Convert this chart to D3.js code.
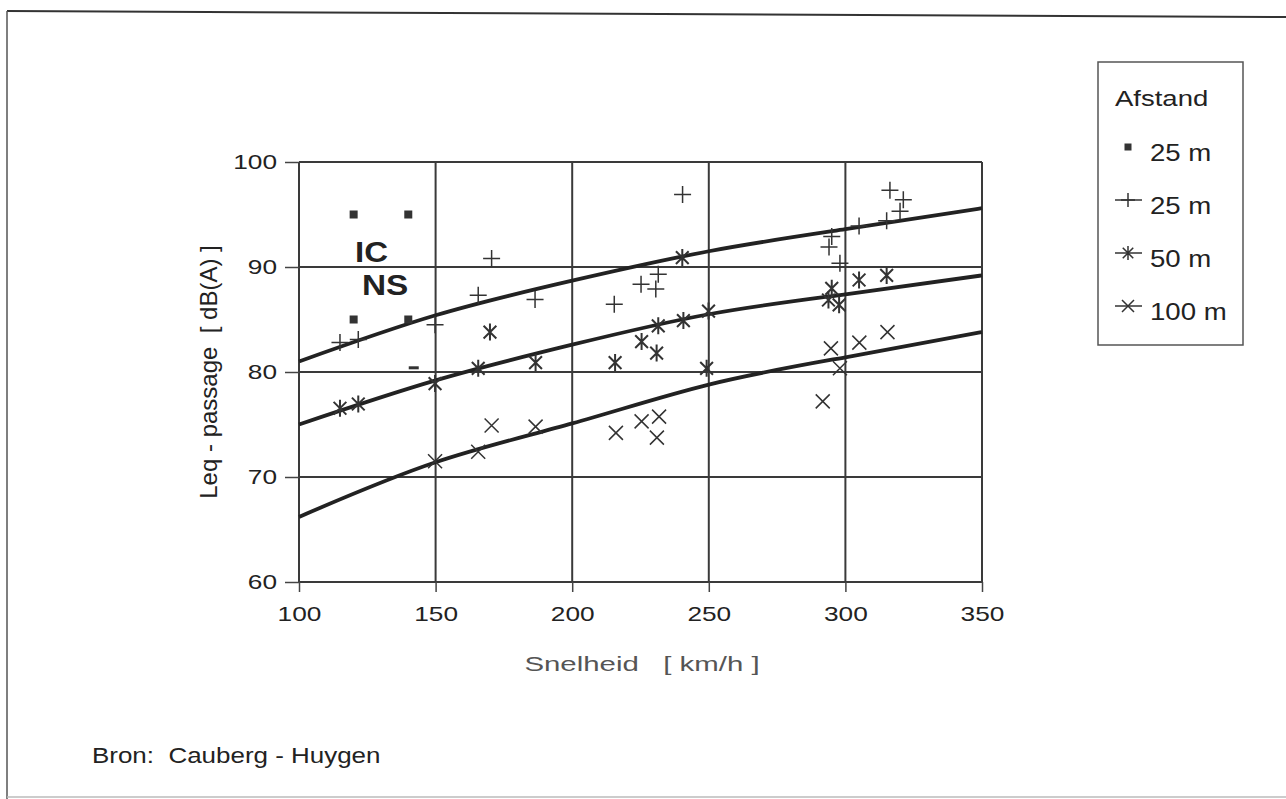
<!DOCTYPE html>
<html>
<head>
<meta charset="utf-8">
<script src="https://cdn.jsdelivr.net/npm/d3@7"></script>
<style>
  body { margin: 0; background: #fff; }
  text { font-family: "Liberation Sans", Arial, sans-serif; fill: #222; white-space: pre; }
</style>
</head>
<body>
<svg id="chart" width="1286" height="799"></svg>
<script>
// speed [km/h], Leq [dB(A)]
const xTicks = [100, 150, 200, 250, 300, 350];
const yTicks = [60, 70, 80, 90, 100];

// regression curves read at each 50 km/h
const fitSpeeds = [100, 150, 200, 250, 300, 350];
const fit25 = [81.0, 85.4, 88.7, 91.5, 93.6, 95.6];
const fit50 = [75.0, 79.2, 82.6, 85.5, 87.4, 89.2];
const fit100 = [66.2, 71.4, 75.1, 78.8, 81.4, 83.8];

// IC / NS measurements at 25 m (squares)
const icns25 = [[120, 95], [140, 95], [120, 85], [140, 85]];
const icnsDash = [[142, 80.4]];

// plus: 25 m
const plus25 = [
  [115, 82.8], [121.7, 83.1], [149.8, 84.5], [165.6, 87.3], [170.5, 90.8],
  [186.4, 86.9], [215.4, 86.45], [225.2, 88.35], [230.6, 87.9], [231.5, 89.3],
  [240.4, 96.9], [294, 91.9], [295, 92.9], [298, 90.35], [305, 93.9],
  [315.1, 94.4], [316.3, 97.3], [320, 95.3], [321.2, 96.4]
];
// asterisk: 50 m
const star50 = [
  [115, 76.55], [121.7, 76.95], [149.8, 78.9], [165.6, 80.35], [169.9, 83.8],
  [186.6, 80.9], [215.7, 80.9], [225.4, 82.9], [230.9, 81.8], [231.5, 84.4],
  [240.3, 90.9], [240.7, 84.9], [249.9, 85.8], [249.2, 80.35], [293.8, 86.86],
  [295, 87.97], [297.7, 86.4], [305, 88.76], [315.1, 89.2]
];
// cross: 100 m
const x100 = [
  [149.8, 71.5], [165.6, 72.4], [170.5, 74.9], [186.6, 74.8], [216, 74.2],
  [225.4, 75.3], [231, 73.75], [231.8, 75.75], [291.7, 77.2], [294.7, 82.25],
  [298, 80.35], [305.1, 82.8], [315.4, 83.8]
];

const legendItems = [
  { label: '25 m', type: 'square' },
  { label: '25 m', type: 'plus' },
  { label: '50 m', type: 'star' },
  { label: '100 m', type: 'cross' }
];

const svg = d3.select('#chart');
const SX = 1.25; // the scanned text is wide

const xScale = d3.scaleLinear().domain([100, 350]).range([299, 982]);
const yScale = d3.scaleLinear().domain([60, 100]).range([582, 162]);

// outer frame of the scan
svg.append('line').attr('x1', 7).attr('y1', 11).attr('x2', 1286).attr('y2', 17)
  .attr('stroke', '#333').attr('stroke-width', 2);
svg.append('line').attr('x1', 7).attr('y1', 11).attr('x2', 7).attr('y2', 799)
  .attr('stroke', '#555').attr('stroke-width', 1.5);
svg.append('line').attr('x1', 7).attr('y1', 797).attr('x2', 1286).attr('y2', 797)
  .attr('stroke', '#bbb').attr('stroke-width', 1.5);

// grid
const grid = svg.append('g').attr('stroke', '#3a3a3a').attr('stroke-width', 2);
grid.selectAll('.vg').data(xTicks).join('line')
  .attr('x1', d => xScale(d)).attr('x2', d => xScale(d))
  .attr('y1', yScale(100)).attr('y2', yScale(60));
grid.selectAll('.hg').data(yTicks).join('line')
  .attr('x1', xScale(100)).attr('x2', xScale(350))
  .attr('y1', d => yScale(d)).attr('y2', d => yScale(d));

// axes
const yAxis = d3.axisLeft(yScale).tickValues(yTicks).tickSize(14).tickPadding(8);
const xAxis = d3.axisBottom(xScale).tickValues(xTicks).tickSize(10).tickPadding(14);

const yAxisG = svg.append('g').attr('transform', `translate(${xScale(100)},0)`).call(yAxis);
const xAxisG = svg.append('g').attr('transform', `translate(0,${yScale(60)})`).call(xAxis);
[yAxisG, xAxisG].forEach(a => {
  a.select('.domain').remove();
  a.selectAll('line').attr('stroke', '#444').attr('stroke-width', 1.5);
  a.selectAll('text').attr('font-size', 21).attr('fill', '#222')
    .attr('font-family', '"Liberation Sans", Arial, sans-serif');
});
yAxisG.selectAll('text').each(function () {
  const t = d3.select(this);
  const x = +t.attr('x');
  t.attr('x', null).attr('transform', `translate(${x},0) scale(${SX},1)`);
});
xAxisG.selectAll('text').attr('transform', `scale(${SX},1)`);

// fitted curves
const line = d3.line()
  .x(d => xScale(d[0]))
  .y(d => yScale(d[1]))
  .curve(d3.curveNatural);
[fit25, fit50, fit100].forEach(f => {
  svg.append('path')
    .attr('d', line(fitSpeeds.map((s, i) => [s, f[i]])))
    .attr('fill', 'none').attr('stroke', '#222').attr('stroke-width', 3.8);
});

// markers
const plusPath = s => `M${-s},0H${s}M0,${-s}V${s}`;
const crossPath = s => `M${-s},${-s}L${s},${s}M${-s},${s}L${s},${-s}`;
const starPath = s => crossPath(s * 0.75) + `M0,${-s}V${s}`;

function drawMarks(data, path, width) {
  svg.append('g').selectAll('path').data(data).join('path')
    .attr('transform', d => `translate(${xScale(d[0])},${yScale(d[1])})`)
    .attr('d', path)
    .attr('fill', 'none').attr('stroke', '#333').attr('stroke-width', width);
}
drawMarks(plus25, plusPath(8.5), 1.5);
drawMarks(star50, starPath(8.5), 2);
drawMarks(x100, crossPath(7), 1.5);

svg.append('g').selectAll('rect').data(icns25).join('rect')
  .attr('x', d => xScale(d[0]) - 4).attr('y', d => yScale(d[1]) - 4)
  .attr('width', 8).attr('height', 8).attr('fill', '#333');
svg.append('g').selectAll('rect').data(icnsDash).join('rect')
  .attr('x', d => xScale(d[0]) - 5).attr('y', d => yScale(d[1]) - 1.5)
  .attr('width', 10).attr('height', 3).attr('fill', '#333');

// texts
function wideText(x, y, str, size, opts = {}) {
  return svg.append('text')
    .attr('transform', `translate(${x},${y}) scale(${opts.sx || SX},1)`)
    .attr('font-size', size)
    .attr('font-weight', opts.weight || 'normal')
    .attr('text-anchor', opts.anchor || 'start')
    .style('fill', opts.fill || '#222')
    .text(str);
}

wideText(355, 262, 'IC', 30, { weight: 'bold', sx: 1.1 });
wideText(362, 295, 'NS', 29, { weight: 'bold', sx: 1.15 });

svg.append('text')
  .attr('transform', 'translate(217,372) rotate(-90)')
  .attr('font-size', 24)
  .attr('text-anchor', 'middle')
  .text('Leq - passage  [ dB(A) ]');

wideText(642, 671, 'Snelheid   [ km/h ]', 21, { anchor: 'middle', fill: '#555', sx: 1.4 });

wideText(92, 763, 'Bron:  Cauberg - Huygen', 22, { sx: 1.18 });

// legend
svg.append('rect').attr('x', 1098).attr('y', 62).attr('width', 145).attr('height', 283)
  .attr('fill', 'none').attr('stroke', '#555').attr('stroke-width', 1.5);
wideText(1115, 106, 'Afstand', 22, { sx: 1.25 });

const legRows = [147, 200, 253, 306];
legendItems.forEach((it, i) => {
  const y = legRows[i];
  const g = svg.append('g').attr('transform', `translate(1128,${y})`);
  if (it.type === 'square') {
    g.append('rect').attr('x', -3.5).attr('y', -3.5).attr('width', 7).attr('height', 7).attr('fill', '#333');
  } else {
    g.append('path').attr('d', 'M-13,0H14').attr('stroke', '#333').attr('stroke-width', 1.5);
    const p = it.type === 'plus' ? plusPath(7) : it.type === 'star' ? starPath(7) : crossPath(6);
    g.append('path').attr('d', p).attr('fill', 'none').attr('stroke', '#333').attr('stroke-width', 1.5);
  }
  wideText(1150, y + 14, it.label, 23, { sx: 1.2 });
});
</script>
</body>
</html>
